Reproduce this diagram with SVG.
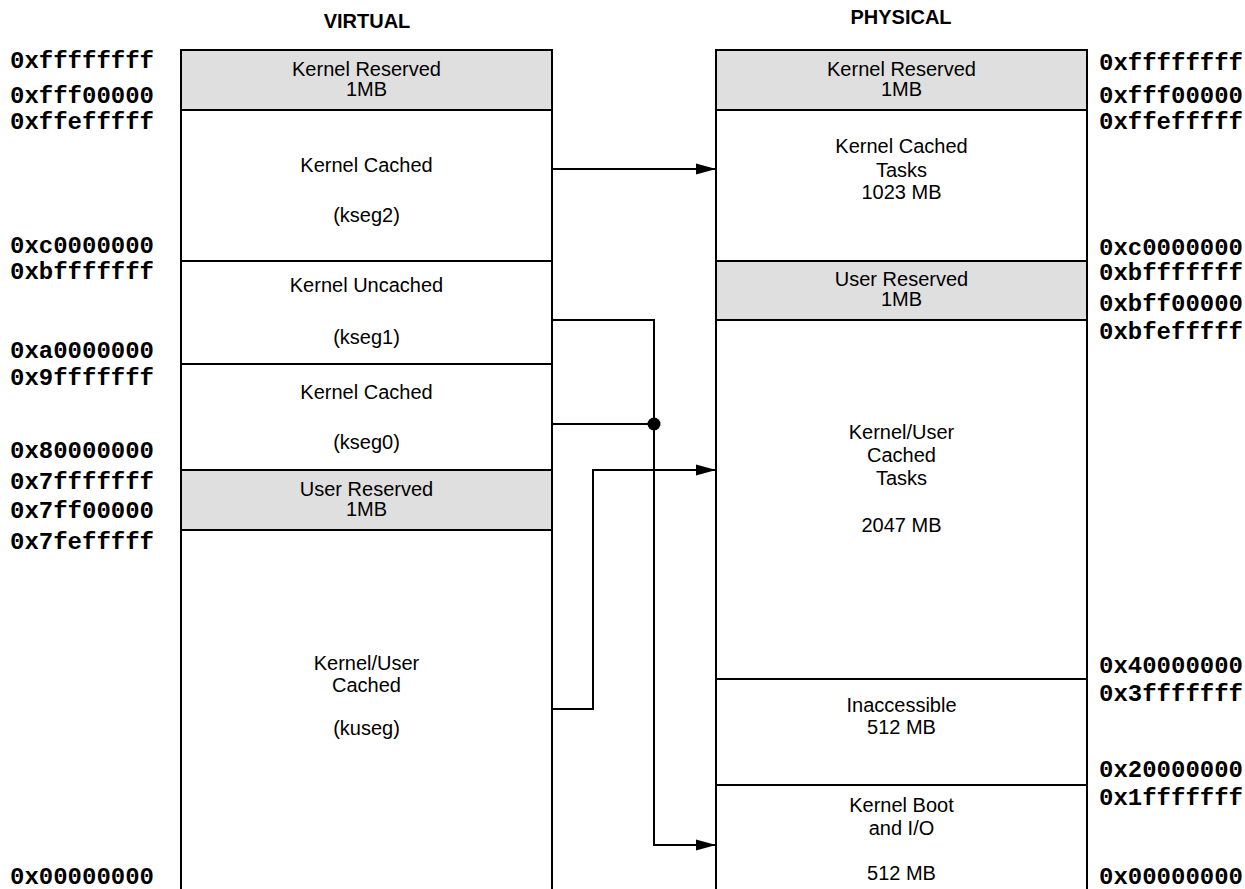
<svg xmlns="http://www.w3.org/2000/svg" width="1245" height="889" viewBox="0 0 1245 889">
<defs>
<style>
.seg{fill:#ffffff;stroke:#000;stroke-width:2}
.res{fill:#dfdfdf;stroke:#000;stroke-width:2}
.lbl{font-family:"Liberation Sans",Arial,sans-serif;font-size:20px;fill:#000;text-anchor:middle}
.ttl{font-family:"Liberation Sans",Arial,sans-serif;font-size:20px;font-weight:bold;fill:#000;text-anchor:middle}
.hex{font-family:"Liberation Mono","Courier New",monospace;font-size:24px;font-weight:bold;fill:#000}
.con{fill:none;stroke:#000;stroke-width:2}
</style>
<marker id="arr" markerUnits="userSpaceOnUse" markerWidth="20" markerHeight="12" refX="20" refY="6" orient="auto">
<path d="M0,0.5 L20,6 L0,11.5 z" fill="#000"/>
</marker>
</defs>
<rect width="1245" height="889" fill="#fff"/>
<text class="ttl" x="367" y="28">VIRTUAL</text>
<text class="ttl" x="901" y="24">PHYSICAL</text>

<g id="virtual">
<g id="v-kernel-reserved"><rect class="res" x="181" y="50" width="371" height="60"/><text class="lbl" x="366.5" y="76">Kernel Reserved</text><text class="lbl" x="366.5" y="96">1MB</text></g>
<g id="v-kseg2"><rect class="seg" x="181" y="110" width="371" height="151"/><text class="lbl" x="366.5" y="172">Kernel Cached</text><text class="lbl" x="366.5" y="222">(kseg2)</text></g>
<g id="v-kseg1"><rect class="seg" x="181" y="261" width="371" height="103"/><text class="lbl" x="366.5" y="292">Kernel Uncached</text><text class="lbl" x="366.5" y="344">(kseg1)</text></g>
<g id="v-kseg0"><rect class="seg" x="181" y="364" width="371" height="106"/><text class="lbl" x="366.5" y="399">Kernel Cached</text><text class="lbl" x="366.5" y="449">(kseg0)</text></g>
<g id="v-user-reserved"><rect class="res" x="181" y="470" width="371" height="60"/><text class="lbl" x="366.5" y="496">User Reserved</text><text class="lbl" x="366.5" y="516">1MB</text></g>
<g id="v-kuseg"><rect class="seg" x="181" y="530" width="371" height="380"/><text class="lbl" x="366.5" y="670">Kernel/User</text><text class="lbl" x="366.5" y="692">Cached</text><text class="lbl" x="366.5" y="735">(kuseg)</text></g>
</g>

<g id="physical">
<g id="p-kernel-reserved"><rect class="res" x="716" y="50" width="371" height="60"/><text class="lbl" x="901.5" y="76">Kernel Reserved</text><text class="lbl" x="901.5" y="96">1MB</text></g>
<g id="p-kernel-cached"><rect class="seg" x="716" y="110" width="371" height="151"/><text class="lbl" x="901.5" y="153">Kernel Cached</text><text class="lbl" x="901.5" y="177">Tasks</text><text class="lbl" x="901.5" y="199">1023 MB</text></g>
<g id="p-user-reserved"><rect class="res" x="716" y="261" width="371" height="59"/><text class="lbl" x="901.5" y="286">User Reserved</text><text class="lbl" x="901.5" y="306">1MB</text></g>
<g id="p-kernel-user"><rect class="seg" x="716" y="320" width="371" height="359"/><text class="lbl" x="901.5" y="439">Kernel/User</text><text class="lbl" x="901.5" y="462">Cached</text><text class="lbl" x="901.5" y="485">Tasks</text><text class="lbl" x="901.5" y="532">2047 MB</text></g>
<g id="p-inaccessible"><rect class="seg" x="716" y="679" width="371" height="106"/><text class="lbl" x="901.5" y="712">Inaccessible</text><text class="lbl" x="901.5" y="734">512 MB</text></g>
<g id="p-boot"><rect class="seg" x="716" y="785" width="371" height="125"/><text class="lbl" x="901.5" y="812">Kernel Boot</text><text class="lbl" x="901.5" y="835">and I/O</text><text class="lbl" x="901.5" y="880">512 MB</text></g>
</g>

<g id="v-addresses">
<text class="hex" x="10" y="68">0xffffffff</text>
<text class="hex" x="10" y="103">0xfff00000</text>
<text class="hex" x="10" y="129">0xffefffff</text>
<text class="hex" x="10" y="253">0xc0000000</text>
<text class="hex" x="10" y="279">0xbfffffff</text>
<text class="hex" x="10" y="358">0xa0000000</text>
<text class="hex" x="10" y="385">0x9fffffff</text>
<text class="hex" x="10" y="458">0x80000000</text>
<text class="hex" x="10" y="489">0x7fffffff</text>
<text class="hex" x="10" y="518">0x7ff00000</text>
<text class="hex" x="10" y="549">0x7fefffff</text>
<text class="hex" x="10" y="884">0x00000000</text>
</g>
<g id="p-addresses">
<text class="hex" x="1099" y="70">0xffffffff</text>
<text class="hex" x="1099" y="103">0xfff00000</text>
<text class="hex" x="1099" y="129">0xffefffff</text>
<text class="hex" x="1099" y="255">0xc0000000</text>
<text class="hex" x="1099" y="280">0xbfffffff</text>
<text class="hex" x="1099" y="311">0xbff00000</text>
<text class="hex" x="1099" y="339">0xbfefffff</text>
<text class="hex" x="1099" y="673">0x40000000</text>
<text class="hex" x="1099" y="701">0x3fffffff</text>
<text class="hex" x="1099" y="777">0x20000000</text>
<text class="hex" x="1099" y="805">0x1fffffff</text>
<text class="hex" x="1099" y="884">0x00000000</text>
</g>

<g id="connectors">
<path class="con" d="M552,169 H716" marker-end="url(#arr)"/>
<path class="con" d="M552,320 H654 V845 H716" marker-end="url(#arr)"/>
<path class="con" d="M552,424 H654"/>
<circle cx="654" cy="424" r="6.5" fill="#000"/>
<path class="con" d="M552,709 H593 V470 H716" marker-end="url(#arr)"/>
</g>
</svg>
